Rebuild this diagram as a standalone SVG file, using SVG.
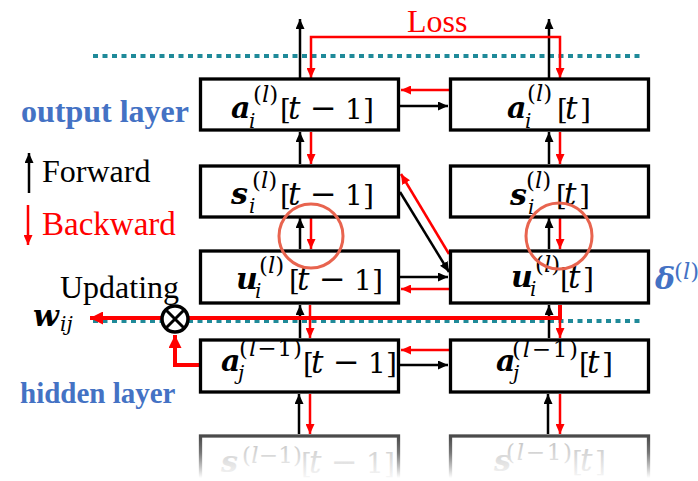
<svg xmlns="http://www.w3.org/2000/svg" width="698" height="481" viewBox="0 0 698 481">
<style>
.box{fill:#fff;stroke:#000;stroke-width:3.3}
.fbox{fill:#fff;stroke:url(#fs);stroke-width:3.3}
.k{fill:none;stroke:#000;stroke-width:2.5}
.r{fill:none;stroke:#f00;stroke-width:2.5}
.rt{fill:none;stroke:#f00;stroke-width:4}
.dot{fill:none;stroke:#1f8a99;stroke-width:4;stroke-dasharray:5 4.5}
.ring{fill:none;stroke:#e8644f;stroke-width:3}
.t{font-family:"Liberation Serif","Times New Roman",serif}
.m{font-family:"DejaVu Serif",serif;font-size:28px}
.bi{font-weight:bold;font-style:italic;font-size:30px}
.it{font-style:italic}
.tt{font-style:italic;font-size:31px}
.mi{font-size:32px}
.sb{font-size:20px;font-style:italic}
.sp{font-size:23px}
.fd{fill:url(#ft)}
.blue{fill:#4472c4;font-weight:bold}
</style>
<defs>
<marker id="ab" viewBox="0 0 10 10" refX="10" refY="5" markerWidth="10" markerHeight="9" preserveAspectRatio="none" orient="auto-start-reverse" markerUnits="userSpaceOnUse"><path d="M0,0L10,5L0,10z" fill="#000"/></marker>
<marker id="ar" viewBox="0 0 10 10" refX="10" refY="5" markerWidth="10" markerHeight="9" preserveAspectRatio="none" orient="auto-start-reverse" markerUnits="userSpaceOnUse"><path d="M0,0L10,5L0,10z" fill="#f00"/></marker>
<marker id="arb" viewBox="0 0 10 10" refX="10" refY="5" markerWidth="13" markerHeight="13" preserveAspectRatio="none" orient="auto" markerUnits="userSpaceOnUse"><path d="M0,0L10,5L0,10z" fill="#f00"/></marker>
<linearGradient id="fs" gradientUnits="userSpaceOnUse" x1="0" y1="436" x2="0" y2="478"><stop offset="0" stop-color="#4a4a4a"/><stop offset="0.4" stop-color="#777"/><stop offset="1" stop-color="#fff"/></linearGradient>
<linearGradient id="ft" gradientUnits="userSpaceOnUse" x1="0" y1="440" x2="0" y2="484"><stop offset="0" stop-color="#c4c4c4"/><stop offset="1" stop-color="#fff"/></linearGradient>
</defs>

<g id="guides">
<path class="dot" d="M93,56 H643"/>
<path class="dot" d="M93,321 H643"/>
</g>

<g id="connectors">
<path class="k" d="M300,78 V19" marker-end="url(#ab)"/>
<path class="k" d="M549,78 V19" marker-end="url(#ab)"/>
<path class="r" d="M311,78 V37 H560 V78" marker-start="url(#ar)" marker-end="url(#ar)"/>
<path class="k" d="M300,164 V132" marker-end="url(#ab)"/>
<path class="r" d="M311,132 V164" marker-end="url(#ar)"/>
<path class="k" d="M549,164 V132" marker-end="url(#ab)"/>
<path class="r" d="M560,132 V164" marker-end="url(#ar)"/>
<path class="k" d="M300,249 V218" marker-end="url(#ab)"/>
<path class="r" d="M311,218 V249" marker-end="url(#ar)"/>
<path class="k" d="M549,249 V218" marker-end="url(#ab)"/>
<path class="r" d="M560,218 V249" marker-end="url(#ar)"/>
<path class="k" d="M300,338 V305" marker-end="url(#ab)"/>
<path class="r" d="M310,305 V338" marker-end="url(#ar)"/>
<path class="k" d="M549,338 V305" marker-end="url(#ab)"/>
<path class="r" d="M560,305 V338" marker-end="url(#ar)"/>
<path class="k" d="M299,434 V394" marker-end="url(#ab)"/>
<path class="r" d="M310,394 V434" marker-end="url(#ar)"/>
<path class="k" d="M548,434 V394" marker-end="url(#ab)"/>
<path class="r" d="M560,394 V434" marker-end="url(#ar)"/>
<path class="r" d="M449,90 H401" marker-end="url(#ar)"/>
<path class="k" d="M400,106 H448" marker-end="url(#ab)"/>
<path class="k" d="M400,192 L449,272" marker-end="url(#ab)"/>
<path class="r" d="M449,254 L401,174" marker-end="url(#ar)"/>
<path class="k" d="M400,277 H448" marker-end="url(#ab)"/>
<path class="r" d="M449,289 H401" marker-end="url(#ar)"/>
<path class="r" d="M449,350 H401" marker-end="url(#ar)"/>
<path class="k" d="M400,365 H448" marker-end="url(#ab)"/>
<path class="rt" d="M560,305 V318 H90" marker-end="url(#arb)"/>
<path class="rt" d="M199,365 H175 V335" marker-end="url(#arb)"/>
<path class="k" d="M29,193 V153" marker-end="url(#ab)"/>
<path class="r" d="M28,205 V245" marker-end="url(#ar)"/>
</g>

<g id="updating">
<circle cx="175" cy="319" r="13" fill="#fff" stroke="#000" stroke-width="3.5"/>
<path d="M166,310 L184,328 M184,310 L166,328" stroke="#000" stroke-width="3"/>
</g>

<g id="a_l_t-1">
<rect class="box" x="200.5" y="79" width="198" height="51"/>
<text class="m bi" x="231" y="118">a</text>
<text class="m sb" x="249" y="128">i</text>
<text class="m sp" x="253" y="102">(<tspan class="it">l</tspan>)</text>
<text class="m" y="119"><tspan x="280">[</tspan><tspan x="288" class="tt">t</tspan><tspan x="310" class="mi">−</tspan><tspan x="345">1</tspan><tspan x="363">]</tspan></text>
</g>
<g id="a_l_t">
<rect class="box" x="450.5" y="79" width="198" height="51"/>
<text class="m bi" x="507" y="118">a</text>
<text class="m sb" x="525" y="128">i</text>
<text class="m sp" x="527" y="101">(<tspan class="it">l</tspan>)</text>
<text class="m" y="119"><tspan x="557">[</tspan><tspan x="565" class="tt">t</tspan><tspan x="580">]</tspan></text>
</g>

<g id="s_l_t-1">
<rect class="box" x="200.5" y="166" width="198" height="51"/>
<text class="m bi" x="231" y="204">s</text>
<text class="m sb" x="249" y="213">i</text>
<text class="m sp" x="252" y="188">(<tspan class="it">l</tspan>)</text>
<text class="m" y="205"><tspan x="280">[</tspan><tspan x="288" class="tt">t</tspan><tspan x="310" class="mi">−</tspan><tspan x="345">1</tspan><tspan x="363">]</tspan></text>
</g>
<g id="s_l_t">
<rect class="box" x="450.5" y="166" width="198" height="51"/>
<text class="m bi" x="510" y="205">s</text>
<text class="m sb" x="528" y="214">i</text>
<text class="m sp" x="526" y="188">(<tspan class="it">l</tspan>)</text>
<text class="m" y="205"><tspan x="556">[</tspan><tspan x="564" class="tt">t</tspan><tspan x="579">]</tspan></text>
</g>

<g id="u_l_t-1">
<rect class="box" x="200.5" y="251" width="198" height="52"/>
<text class="m bi" x="236" y="289">u</text>
<text class="m sb" x="255" y="298">i</text>
<text class="m sp" x="259" y="273">(<tspan class="it">l</tspan>)</text>
<text class="m" y="290"><tspan x="289">[</tspan><tspan x="297" class="tt">t</tspan><tspan x="319" class="mi">−</tspan><tspan x="354">1</tspan><tspan x="372">]</tspan></text>
</g>
<g id="u_l_t">
<rect class="box" x="450.5" y="251" width="198" height="52"/>
<text class="m bi" x="511" y="287">u</text>
<text class="m sb" x="530" y="296">i</text>
<text class="m sp" x="535" y="272">(<tspan class="it">l</tspan>)</text>
<text class="m" y="288"><tspan x="560">[</tspan><tspan x="568" class="tt">t</tspan><tspan x="583">]</tspan></text>
</g>

<g id="a_l-1_t-1">
<rect class="box" x="200.5" y="340" width="198" height="52"/>
<text class="m bi" x="221" y="371">a</text>
<text class="m sb" x="238" y="380">j</text>
<text class="m sp" x="239" y="356" textLength="63" lengthAdjust="spacing">(<tspan class="it">l</tspan>−1)</text>
<text class="m" y="373"><tspan x="303">[</tspan><tspan x="311" class="tt">t</tspan><tspan x="333" class="mi">−</tspan><tspan x="368">1</tspan><tspan x="386">]</tspan></text>
</g>
<g id="a_l-1_t">
<rect class="box" x="450.5" y="340" width="198" height="52"/>
<text class="m bi" x="496" y="371">a</text>
<text class="m sb" x="513" y="380">j</text>
<text class="m sp" x="512" y="357" textLength="66" lengthAdjust="spacing">(<tspan class="it">l</tspan>−1)</text>
<text class="m" y="373"><tspan x="579">[</tspan><tspan x="587" class="tt">t</tspan><tspan x="602">]</tspan></text>
</g>

<g id="s_l-1_t-1">
<rect class="fbox" x="200.5" y="436" width="198" height="60"/>
<text class="m bi fd" x="221" y="472">s</text>
<text class="m sp fd" x="242" y="463" textLength="60" lengthAdjust="spacing">(<tspan class="it">l</tspan>−1)</text>
<text class="m fd" y="473"><tspan x="301">[</tspan><tspan x="309" class="tt">t</tspan><tspan x="331" class="mi">−</tspan><tspan x="366">1</tspan><tspan x="384">]</tspan></text>
</g>
<g id="s_l-1_t">
<rect class="fbox" x="450.5" y="436" width="198" height="60"/>
<text class="m bi fd" x="494" y="471">s</text>
<text class="m sp fd" x="506" y="460" textLength="66" lengthAdjust="spacing">(<tspan class="it">l</tspan>−1)</text>
<text class="m fd" y="471"><tspan x="572">[</tspan><tspan x="580" class="tt">t</tspan><tspan x="595">]</tspan></text>
</g>

<g id="rings">
<circle class="ring" cx="311" cy="236" r="32"/>
<circle class="ring" cx="559" cy="236" r="33"/>
</g>

<g id="labels">
<text class="t" x="407" y="32" font-size="32" fill="#f00">Loss</text>
<text class="t blue" x="21" y="122" font-size="32">output layer</text>
<text class="t blue" x="20" y="403" font-size="29">hidden layer</text>
<text class="t" x="42" y="182" font-size="32">Forward</text>
<text class="t" x="42" y="235" font-size="33" fill="#f00">Backward</text>
<text class="t" x="60" y="298" font-size="32">Updating</text>
<text class="m" y="326"><tspan class="bi" x="33" font-size="27">w</tspan><tspan class="sb" x="60" dy="5">ij</tspan></text>
<text class="m" y="289" fill="#4472c4"><tspan class="bi" x="655" font-size="27">δ</tspan><tspan class="sp" x="674" dy="-10" font-size="19">(<tspan class="it">l</tspan>)</tspan></text>
</g>
</svg>
